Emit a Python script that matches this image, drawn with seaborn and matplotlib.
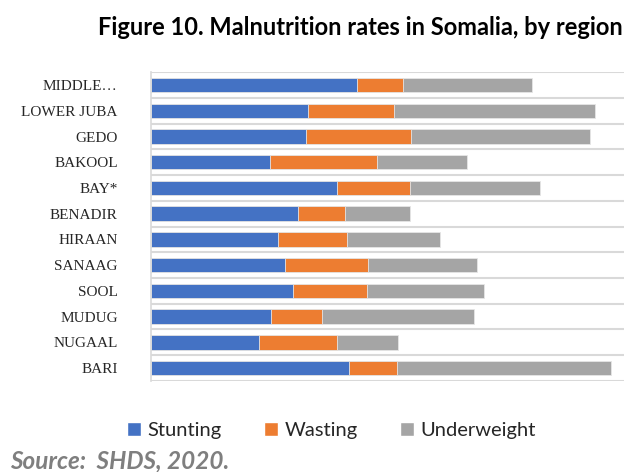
import numpy as np
import pandas as pd
import matplotlib
matplotlib.use("Agg")
import matplotlib.pyplot as plt
import seaborn as sns
from matplotlib.patches import Patch

# ----------------------------
# Data
# ----------------------------
regions = ["MIDDLE…", "LOWER JUBA", "GEDO", "BAKOOL", "BAY*", "BENADIR",
           "HIRAAN", "SANAAG", "SOOL", "MUDUG", "NUGAAL", "BARI"]
stunting = [25.7, 19.6, 19.4, 14.9, 23.3, 18.4, 15.9, 16.8, 17.7, 15.0, 13.5, 24.8]
wasting = [5.8, 10.8, 13.1, 13.3, 9.0, 5.8, 8.6, 10.3, 9.3, 6.4, 9.7, 5.9]
underweight = [16.1, 25.1, 22.4, 11.3, 16.3, 8.2, 11.6, 13.6, 14.6, 19.0, 7.6, 26.8]

series = ["Stunting", "Wasting", "Underweight"]
colors = ["#4472C4", "#ED7D31", "#A5A5A5"]

df = pd.DataFrame({"region": regions, "Stunting": stunting,
                   "Wasting": wasting, "Underweight": underweight})
df["sw"] = df["Stunting"] + df["Wasting"]
df["total"] = df["sw"] + df["Underweight"]

sns.set_style("white")

fig = plt.figure(figsize=(6.24, 4.72), dpi=100)
ax = fig.add_axes([0.242, 0.193, 0.758, 0.654])

# stacked bars: draw cumulative totals back to front
for col, c in zip(["total", "sw", "Stunting"], colors[::-1]):
    sns.barplot(data=df, x=col, y="region", color=c, width=0.56, saturation=1,
                edgecolor="#e6e6e6", linewidth=0.6, ax=ax, orient="h")

ax.set_xlim(0, 59.1)
ax.set_ylim(11.5, -0.5)
for yy in np.arange(-0.5, 12, 1):
    ax.axhline(yy, color="#d9d9d9", lw=1.5, zorder=0)

for s in ["top", "right", "bottom"]:
    ax.spines[s].set_visible(False)
ax.spines["left"].set_color("#d9d9d9")
ax.spines["left"].set_linewidth(1.2)

ax.set_xticks([])
ax.set_xlabel("")
ax.set_ylabel("")
ax.tick_params(axis="y", length=0, pad=24)
for lab in ax.get_yticklabels():
    lab.set_fontfamily("Liberation Serif")
    lab.set_fontsize(11)
    lab.set_color("#262626")

fig.text(0.577, 0.942, "Figure 10. Malnutrition rates in Somalia, by region",
         ha="center", va="center", fontsize=17, fontweight="bold",
         family="Lato", color="black")

handles = [Patch(facecolor=c, label=s) for s, c in zip(series, colors)]
fig.legend(handles=handles, loc="center", bbox_to_anchor=(0.531, 0.087),
           ncol=3, frameon=False, handlelength=0.7, handleheight=0.7,
           handletextpad=0.3, columnspacing=2.13,
           prop={"family": "Lato", "size": 14.5})

fig.text(0.016, 0.023, "Source:  SHDS, 2020.", ha="left", va="center",
         fontsize=17.5, fontweight="bold", fontstyle="italic",
         family="Lato", color="#7f7f7f")

fig.savefig("out.png", dpi=100)
